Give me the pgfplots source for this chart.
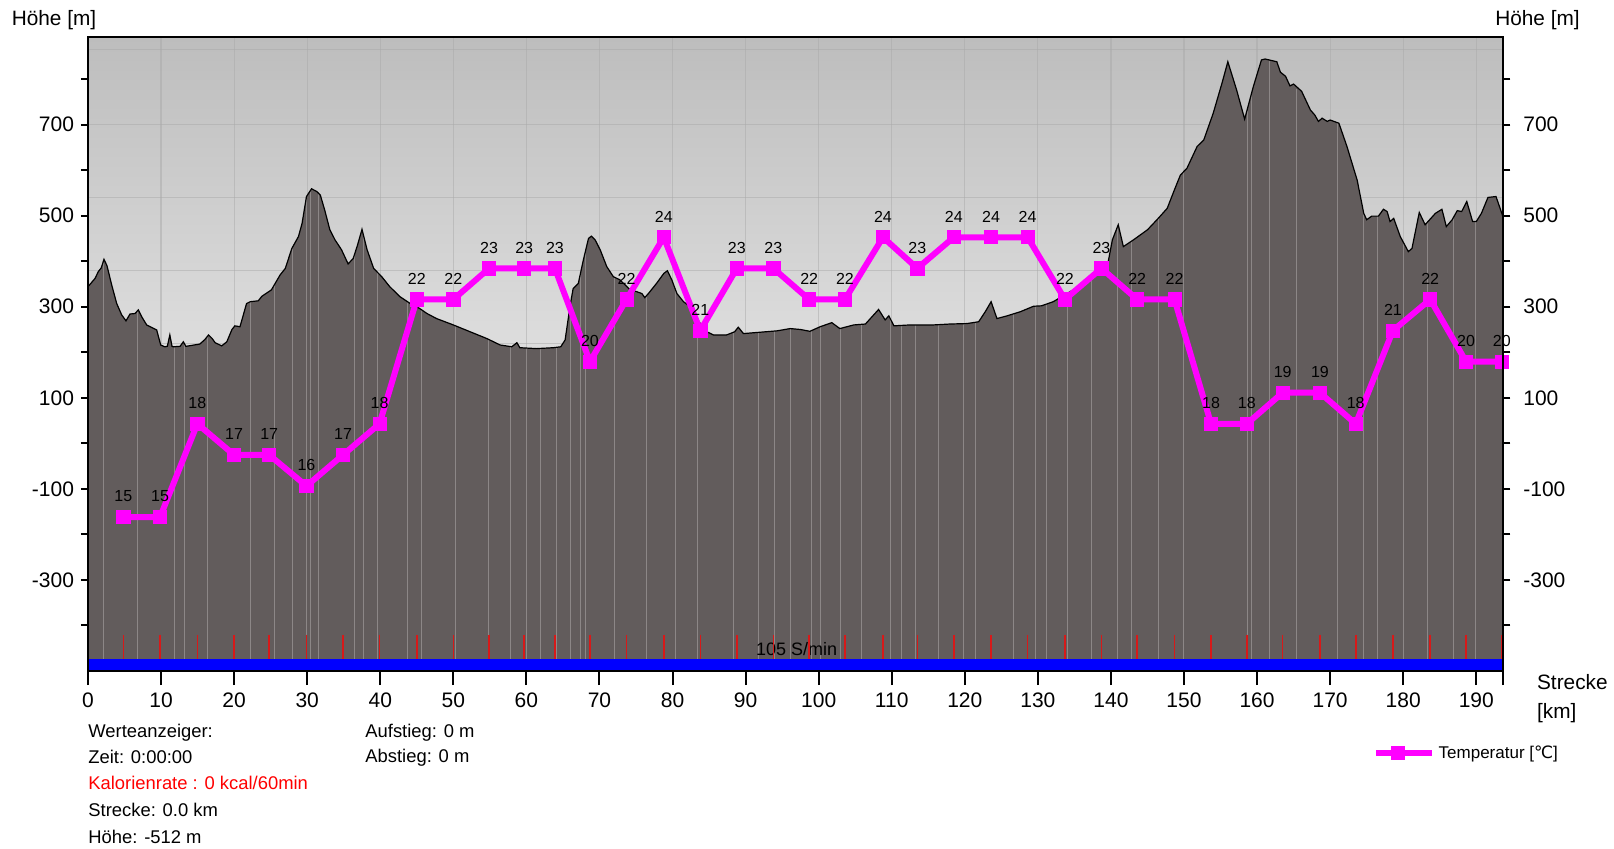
\documentclass[border=0pt]{standalone}
\usepackage{pgfplots}
\pgfplotsset{compat=1.18}
\usepackage{pgfplotstable}
\usepackage{fontspec}
\setmainfont{Liberation Sans}
\newfontfamily\dejavu{DejaVu Sans}
\definecolor{prof}{RGB}{98,92,92}
\definecolor{streak}{RGB}{140,135,135}
\definecolor{tred}{RGB}{215,25,25}
\definecolor{bgtop}{RGB}{189,189,189}
\definecolor{gridc}{RGB}{170,170,170}
\definecolor{tmag}{RGB}{255,0,255}

\pgfplotstableread{
x e
0 -500
0 344
0.96 362
1.41 377
1.8 385
2.19 404
2.6 390
3.24 348
3.93 307
4.61 282
5.2 269
5.75 284
6.43 285
6.89 293
7.35 278
8.03 260
9.4 249
9.95 216
10.5 212
10.86 213
11.2 238
11.5 213
11.68 212
12.6 213
13.05 223
13.4 213
15.3 218
16.0 228
16.5 238
17.0 230
17.4 221
18.3 214
19.0 223
19.7 250
20.1 258
20.8 256
21.7 307
22.2 311
23.3 313
23.8 323
25.1 337
26.3 370
27.0 384
27.9 428
28.8 454
29.3 483
29.9 542
30.6 559
31.3 553
31.8 545
32.4 512
33.1 469
33.8 447
34.7 425
35.6 394
36.3 406
36.9 436
37.5 470
38.2 425
39.1 384
40.2 366
41.3 344
42.7 322
44.1 307
45.4 296
46.4 285
47.7 274
50.0 260
52.3 245
54.6 230
56.4 216
58.0 212
58.7 221
59.1 210
61.4 208
63.7 210
64.7 212
65.3 227
66.0 304
66.4 340
67.1 351
67.8 403
68.5 450
68.9 455
69.4 447
70.1 425
71.0 388
71.9 366
72.8 359
74.2 337
75.1 333
75.8 329
76.2 320
76.7 329
77.8 351
78.8 373
79.3 379
79.9 359
80.6 329
81.5 311
82.4 300
83.8 263
84.7 245
85.6 238
87.4 238
88.5 245
89.0 255
89.7 241
92.0 244
94.3 247
96.1 252
97.5 250
98.8 246
100.2 256
101.8 265
102.9 252
104.8 260
106.4 262
107.3 278
108.2 294
109.1 271
109.6 280
110.3 258
112.5 260
115.7 260
118.0 262
120.3 263
121.9 267
122.8 289
123.6 311
124.4 274
125.8 280
127.6 289
129.4 301
130.5 302
132.1 311
134.0 329
136.3 351
138.1 373
139.5 388
140.2 447
141.0 480
141.7 432
143.1 447
145.0 469
146.3 491
147.7 516
148.6 553
149.5 589
150.4 604
151.8 652
152.7 666
154.0 725
155.2 791
156.0 838
157.2 776
158.3 712
159.5 784
160.6 842
161.1 844
162.7 838
163.2 815
163.9 806
164.5 785
165.0 789
166.1 773
167.3 732
167.9 721
168.4 707
168.9 714
169.6 707
170.0 710
171.2 703
172.3 652
173.7 578
174.6 505
175.0 491
175.7 499
176.6 499
177.3 514
177.8 509
178.2 487
178.7 494
179.6 454
180.7 421
181.2 428
182.2 507
183.0 480
184.4 505
185.3 514
185.9 476
186.7 491
187.4 511
188.0 509
188.7 531
189.5 487
190.0 487
190.7 505
191.6 540
192.7 542
193.5 505
193.7 495
193.7 -500
}\profile

\pgfplotstableread{
x e
2.1 400
6.75 290
11.84 212
13.18 220
16.36 236
22.18 311
25.49 348
28.0 432
29.84 537
30.39 555
31.49 551
36.45 413
37.69 458
39.6 376
43.71 311
45.65 293
50.24 258
54.76 229
57.86 212
59.96 209
61.88 208
64.07 211
65.99 303
67.45 377
68.04 419
72.0 365
76.39 324
80.36 340
83.41 273
88.3 243
91.76 244
93.9 246
96.1 252
99.07 248
100.2 256
102.94 252
105.91 261
109.78 270
111.39 259
113.21 260
116.4 260
119.82 263
121.42 266
126.67 284
129.64 301
131.24 306
134.06 330
137.4 364
140.9 476
142.87 444
146.52 495
149.94 596
158.62 730
159.2 766
161.72 840
165.4 778
170.94 705
174.58 507
176.41 499
180.06 440
183.26 485
186.9 496
189.87 487
}\streaks

\pgfplotstableread{
x t
4.84 15
9.86 15
14.97 18
19.99 17
24.8 17
29.9 16
34.9 17
39.9 18
45.0 22
50.0 22
54.9 23
59.7 23
63.9 23
68.7 20
73.7 22
78.8 24
83.8 21
88.8 23
93.8 23
98.7 22
103.6 22
108.8 24
113.5 23
118.5 24
123.6 24
128.6 24
133.7 22
138.7 23
143.6 22
148.7 22
153.7 18
158.6 18
163.5 19
168.6 19
173.5 18
178.6 21
183.7 22
188.6 20
193.5 20
}\temps

\begin{document}
\begin{tikzpicture}
\path[use as bounding box] (0,0) rectangle (807pt,424pt);
% main axis: elevation profile
\begin{axis}[
  at={(44pt,88.5pt)}, anchor=south west,
  width=707.65pt, height=317.15pt, scale only axis,
  xmin=0, xmax=193.7, ymin=-500, ymax=893,
  axis background/.style={top color=bgtop, bottom color=white},
  axis line style={line width=1pt},
  tick align=outside,
  xtick={0,10,...,190},
  xticklabels={0,10,20,30,40,50,60,70,80,90,100,110,120,130,140,150,160,170,180,190},
  extra x ticks={193.7}, extra x tick labels={},
  xtick style={/pgfplots/major tick length=7pt, line width=1pt, black},
  ytick={-300,-100,100,300,500,700},
  yticklabels={-300,-100,100,300,500,700},
  minor ytick={-400,-200,0,200,400,600,800},
  ytick style={/pgfplots/major tick length=3.5pt, /pgfplots/minor tick length=3.5pt, line width=1pt, black},
  ytick pos=both, xtick pos=bottom,
  ticklabel style={font=\fontsize{10.5}{12}\selectfont},
  xticklabel style={yshift=-3pt},
  yticklabel style={xshift=0.8pt},
  xmajorgrids=true,
  major x grid style={gridc, line width=0.6pt, opacity=0.5},
]
\addplot[gridc, line width=0.6pt, opacity=0.5, forget plot] coordinates {(0,864) (193.7,864)};
\addplot[gridc, line width=0.6pt, opacity=0.5, forget plot] coordinates {(0,700) (193.7,700)};
\addplot[gridc, line width=0.6pt, opacity=0.5, forget plot] coordinates {(0,539) (193.7,539)};
\addplot[gridc, line width=0.6pt, opacity=0.5, forget plot] coordinates {(0,379) (193.7,379)};
\addplot[gridc, line width=0.6pt, opacity=0.5, forget plot] coordinates {(0,219) (193.7,219)};
\addplot[fill=prof, draw=none, forget plot] table[x=x,y=e] {\profile};
\addplot[ycomb, streak, line width=0.45pt, forget plot] table[x=x,y=e] {\streaks};
\addplot[ycomb, streak, line width=0.45pt, forget plot] table[x=x,y expr=-500] {\streaks};
\addplot[black, line width=0.6pt, forget plot] table[x=x,y=e] {\profile};
\addplot[fill=blue, draw=none, forget plot] coordinates {(0,-500) (0,-474) (193.7,-474) (193.7,-500)};
\addplot[only marks, mark=|, mark size=6.15pt, tred, mark options={line width=0.8pt}, forget plot] table[x=x, y expr=-447] {\temps};
\node[font=\fontsize{9}{11}\selectfont] at (axis cs:97,-452) {105 S/min};
\end{axis}
% temperature axis
\begin{axis}[
  at={(44pt,88.5pt)}, anchor=south west,
  width=707.65pt, height=317.15pt, scale only axis,
  xmin=0, xmax=193.7, ymin=10.05, ymax=30.45,
  hide axis,
  legend style={at={(0.9077,-0.1297)}, anchor=west, draw=none, fill=none, inner sep=0pt,
    font=\fontsize{8.5}{10}\selectfont},
  legend image code/.code={
    \draw[#1, mark=none] (0pt,0pt) -- (27.8pt,0pt);
    \draw[#1, only marks] plot coordinates {(10.8pt,0pt)};
  },
]
\addplot[draw=none, mark=none, nodes near coords, point meta=explicit symbolic,
  nodes near coords style={font=\fontsize{8}{10}\selectfont, anchor=center, yshift=10.3pt, text=black},
  forget plot] table[x=x,y=t,meta=t] {\temps};
\addplot[tmag, line width=3pt, mark=square*, mark size=3.3pt, mark options={solid, line width=0.4pt}]
  table[x=x,y=t] {\temps};
\addlegendentry{Temperatur [{\dejavu ℃}]}
\end{axis}
% frame on top + right labels
\begin{axis}[
  at={(44pt,88.5pt)}, anchor=south west,
  width=707.65pt, height=317.15pt, scale only axis,
  xmin=0, xmax=193.7, ymin=-500, ymax=893,
  axis line style={line width=1pt},
  xtick=\empty,
  ytick={-300,-100,100,300,500,700},
  yticklabels={-300,-100,100,300,500,700},
  yticklabel pos=right, ytick pos=right,
  major tick length=0pt,
  ticklabel style={font=\fontsize{10.5}{12}\selectfont},
  yticklabel style={xshift=6.5pt},
]
\end{axis}
\node[font=\fontsize{10.4}{12}\selectfont] at (27pt,414pt) {Höhe [m]};
\node[font=\fontsize{10.4}{12}\selectfont] at (768.75pt,414pt) {Höhe [m]};
\node[font=\fontsize{10.4}{12}\selectfont, anchor=west, inner sep=0pt] at (768.35pt,83.15pt) {Strecke};
\node[font=\fontsize{10.4}{12}\selectfont, anchor=west, inner sep=0pt] at (768.35pt,67.35pt) {[km]};
\begin{scope}[every node/.style={font=\fontsize{9.2}{11}\selectfont, anchor=west, inner sep=0pt}]
\node at (44pt,57.85pt) {Werteanzeiger:};
\node at (44pt,45.35pt) {Zeit: 0:00:00};
\node[text=red] at (44pt,32.35pt) {Kalorienrate : 0 kcal/60min};
\node at (44pt,19pt) {Strecke: 0.0 km};
\node at (44pt,5.65pt) {Höhe: -512 m};
\node at (182.5pt,57.85pt) {Aufstieg: 0 m};
\node at (182.5pt,45.35pt) {Abstieg: 0 m};
\end{scope}
\end{tikzpicture}
\end{document}
